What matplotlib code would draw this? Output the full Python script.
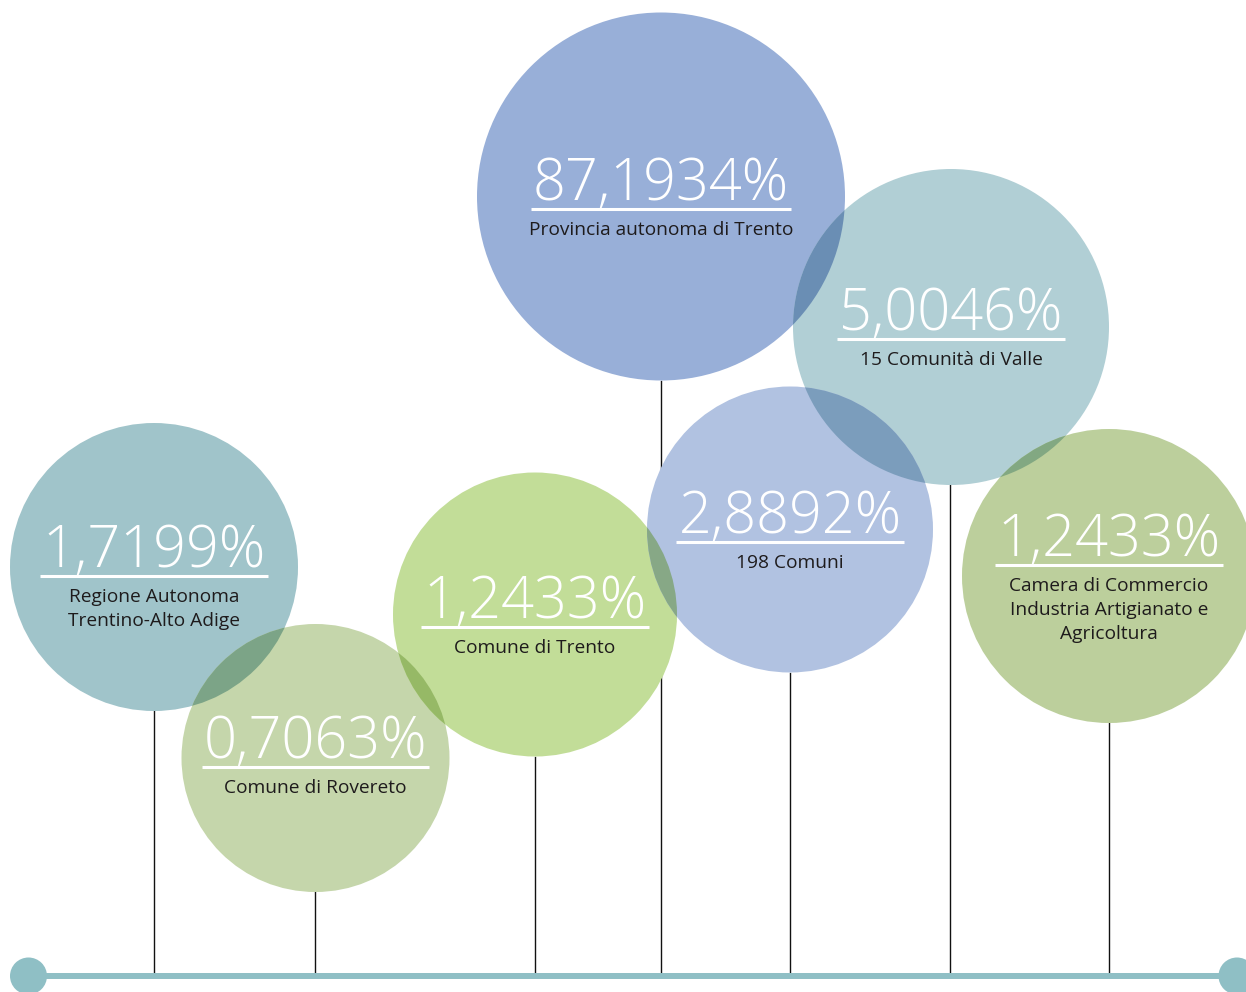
import matplotlib
matplotlib.use("Agg")
import matplotlib.pyplot as plt
from matplotlib.patches import Circle
from matplotlib.colors import to_rgb

# ---- data ----
values = [87.1934, 5.0046, 1.7199, 0.7063, 1.2433, 2.8892, 1.2433]
labels = [
    "Provincia autonoma di Trento",
    "15 Comunità di Valle",
    "Regione Autonoma\nTrentino-Alto Adige",
    "Comune di Rovereto",
    "Comune di Trento",
    "198 Comuni",
    "Camera di Commercio\nIndustria Artigianato e\nAgricoltura",
]

# ---- layout (pixel space) ----
centers = [(661, 196.5), (951, 327), (154, 567), (315.5, 758), (535, 614.5), (790, 529.5), (1109, 576)]
radii = [184, 158, 144, 134, 142, 143, 147]
underline_y = [209, 339, 576, 767, 627, 542, 565]
colors = ["#98afd8", "#b1cfd5", "#a0c4ca", "#c5d6ab", "#c2dd98", "#b1c2e1", "#bccf9c"]
stem_x = [661, 950, 154, 315, 535, 790, 1109]
base_y = 976
base_color = "#8fbfc5"
W, H = 1246, 992

fig = plt.figure(figsize=(W / 100, H / 100), dpi=100)
ax = fig.add_axes([0, 0, 1, 1])
ax.set_xlim(0, W)
ax.set_ylim(H, 0)
ax.set_aspect("equal")
ax.axis("off")

# stems
for i, (cx, cy) in enumerate(centers):
    ax.plot([stem_x[i], stem_x[i]], [cy + radii[i], base_y], color="#111111", lw=1.0, zorder=1)

# baseline
ax.plot([28, 1237], [base_y, base_y], color=base_color, lw=4.3, zorder=1, solid_capstyle="butt")
for ex in (28.5, 1237):
    ax.add_patch(Circle((ex, base_y), 18.5, color=base_color, zorder=1, lw=0))

# circles
for i, (cx, cy) in enumerate(centers):
    ax.add_patch(Circle((cx, cy), radii[i], facecolor=colors[i], lw=0, zorder=2))

# multiply-blend overlaps
n = len(centers)
for i in range(n):
    for j in range(i + 1, n):
        (x1, y1), (x2, y2) = centers[i], centers[j]
        d = ((x1 - x2) ** 2 + (y1 - y2) ** 2) ** 0.5
        if d < radii[i] + radii[j]:
            c1, c2 = to_rgb(colors[i]), to_rgb(colors[j])
            mc = tuple(a * b for a, b in zip(c1, c2))
            clip = Circle((x1, y1), radii[i], transform=ax.transData)
            p = Circle((x2, y2), radii[j], facecolor=mc, lw=0, zorder=3)
            ax.add_patch(p)
            p.set_clip_path(clip)

# texts
num_texts = []
for i, (cx, cy) in enumerate(centers):
    s = f"{values[i]:.4f}".replace(".", ",") + "%"
    t = ax.text(cx, underline_y[i] - 9, s, ha="center", va="baseline", color="white",
                fontsize=41.5, family="Open Sans", fontweight=300, zorder=5)
    num_texts.append(t)
    nlines = labels[i].split("\n")
    for k, line in enumerate(nlines):
        ax.text(cx, underline_y[i] + 26 + 24 * k, line, ha="center", va="baseline",
                color="#1e1b1c", fontsize=13.8, family="Open Sans", fontweight=500, zorder=5)

fig.canvas.draw()
r = fig.canvas.get_renderer()
inv = ax.transData.inverted()
for i, t in enumerate(num_texts):
    bb = t.get_window_extent(renderer=r)
    (xa, _), (xb, _) = inv.transform([(bb.x0, bb.y0), (bb.x1, bb.y1)])
    ax.plot([xa - 2, xb + 2], [underline_y[i], underline_y[i]], color="white", lw=2.2,
            zorder=5, solid_capstyle="butt")

fig.savefig("out.png", dpi=100)
